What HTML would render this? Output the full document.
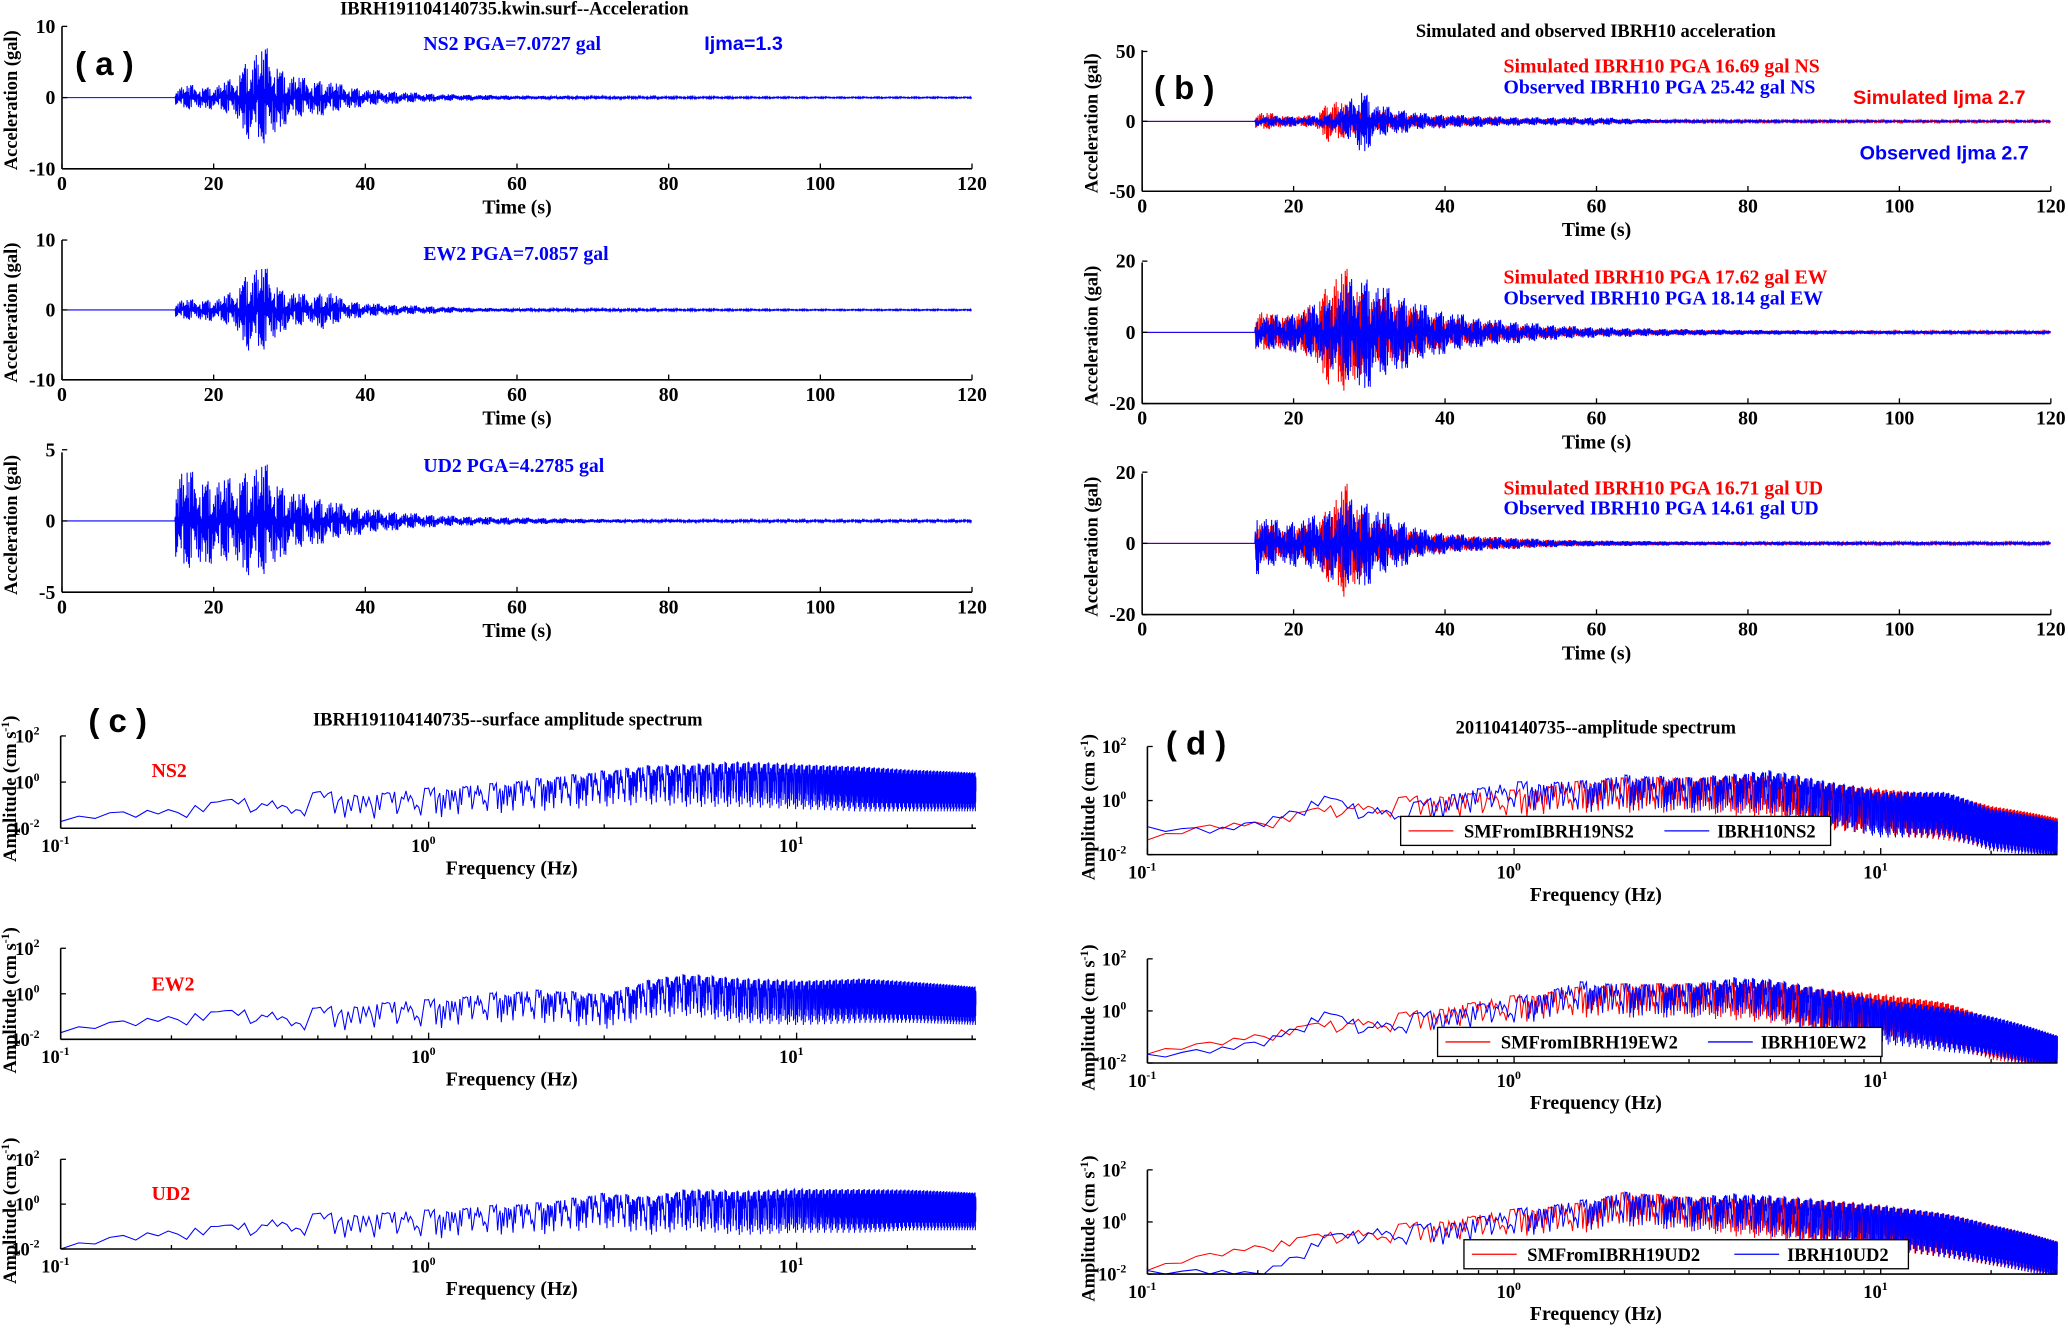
<!DOCTYPE html>
<html><head><meta charset="utf-8"><style>
html,body{margin:0;padding:0;background:#fff;}
svg{display:block;}
text{font-family:"Liberation Serif",serif;font-weight:bold;}
.sans{font-family:"Liberation Sans",sans-serif;}
</style></head>
<body>
<svg id="fig" width="2068" height="1333" viewBox="0 0 1568 1010.7" xmlns="http://www.w3.org/2000/svg">
<rect width="1568" height="1011" fill="#fff"/>
</svg>
<script>
// ---------- Time-series envelope data (time in s, amplitude in gal) ----------
const tKnots = [0,14.9,15,17,19,21,23,25,27,29,31,33,35,37,40,45,50,55,60,70,80,100,120];
const envNS2 = [0,0,1.5,1.8,1.5,2,3,6.5,7,4,3,2.5,2.5,1.8,1.2,0.8,0.5,0.4,0.3,0.2,0.15,0.1,0.1];
const envEW2 = [0,0,1.5,1.5,1.5,1.8,3,6.5,6,3,2.5,2,3,1.5,1,0.7,0.5,0.3,0.25,0.2,0.15,0.1,0.1];
const envUD2 = [0,0,3.8,3.5,3,3,3,4,4,2.5,2,1.8,1.5,1.2,0.9,0.6,0.4,0.3,0.25,0.15,0.1,0.08,0.08];
const simNS = [0,0,7,6,4,4,5,17,12,8,7,6,5,4,4,3,2,2,1.5,1.2,1,0.8,0.8];
const obsNS = [0,0,3,4,4,3,4,6,12,25,12,10,8,6,5,4,3,3,3,1,0.8,0.5,0.5];
const simEW = [0,0,7,5,5,6,9,16,18,12,10,9,8,6,4,3,2,1.5,1,0.8,0.6,0.4,0.4];
const obsEW = [0,0,4,5,5,6,8,10,14,17,14,12,10,8,6,4,3,2,1.5,1,0.7,0.5,0.5];
const simUD = [0,0,7,5,4,5,6,12,17,9,6,5,4,3,2.5,2,1.5,1,0.8,0.6,0.5,0.4,0.4];
const obsUD = [0,0,9,7,6,7,8,10,12,13,10,8,6,4,3,2,1.5,1,0.8,0.6,0.5,0.4,0.4];
const timeTicks = [0,20,40,60,80,100,120];

// ---------- Spectrum data (log10 amplitude upper level) ----------
const fKnots = [0.1,0.15,0.2,0.3,0.4,0.5,0.7,1,1.5,2,3,4,5,7,10,15,20,30];
const cNS2 = [-1.5,-1.3,-1.2,-0.8,-1,-0.6,-0.7,-0.5,-0.3,-0.1,0.2,0.4,0.4,0.5,0.4,0.3,0.2,0.1];
const cEW2 = [-1.5,-1.2,-1,-0.8,-1,-0.8,-0.6,-0.5,-0.2,-0.1,-0.3,0.3,0.5,0.3,0.2,0.3,0.2,0];
const cUD2 = [-1.8,-1.4,-1.2,-1,-0.8,-0.6,-0.6,-0.5,-0.3,-0.2,0.2,0,0.3,0.2,0.3,0.3,0.3,0.2];
const cSpread = [0.2,0.3,0.4,0.5,0.7,0.8,0.9,1,1,1.1,1.2,1.3,1.4,1.5,1.5,1.5,1.4,1.3];
const dNSred = [-1.3,-0.9,-0.8,-0.3,-0.2,0,0.1,0.2,0.5,0.6,0.6,0.6,0.6,0.3,0.1,-0.1,-0.5,-0.9];
const dNSblue = [-1,-1,-0.8,0.1,-0.4,-0.3,0.2,0.5,0.5,0.7,0.6,0.7,0.8,0.4,0,0,-0.6,-1];
const dEWred = [-1.5,-1.2,-0.9,-0.5,-0.4,-0.2,0.1,0.4,0.7,0.8,0.8,0.8,0.8,0.5,0.3,0,-0.6,-1.2];
const dEWblue = [-1.7,-1.4,-1.2,-0.1,-0.6,-0.3,0,0.3,0.9,0.8,0.8,1,0.9,0.5,0.1,-0.2,-0.5,-1.2];
const dUDred = [-1.7,-1.2,-0.9,-0.5,-0.4,-0.2,0,0.3,0.5,0.9,0.7,0.6,0.6,0.5,0.3,0,-0.4,-1];
const dUDblue = [-1.9,-1.8,-2,-0.6,-0.4,-0.3,-0.1,0.3,0.6,0.9,0.7,0.8,0.7,0.5,0.3,0,-0.4,-1];
const dSpread = [0.15,0.2,0.3,0.4,0.5,0.6,0.7,0.8,0.9,1,1,1.1,1.2,1.3,1.3,1.3,1.2,1.1];
const freqTickExp = [-1,0,1];
const ampTickExp = [2,0,-2];

const NS = "http://www.w3.org/2000/svg";
const svg = document.getElementById('fig');
const pat = [1,0.35,0.8,0.15,0.62,0.95,0.3,0.52,0.71,0.2,0.9,0.45,0.66,0.1,0.85,0.4,0.27,0.77,0.58,0.05,0.93,0.33,0.69,0.18,0.48,0.82,0.12,0.6,0.38,0.97,0.25,0.55,0.74,0.08,0.44,0.88,0.29,0.64,0.16,0.79,0.5];

function mk(tag, attrs, name, parent){
  const el = document.createElementNS(NS, tag);
  for (const k in attrs) el.setAttribute(k, attrs[k]);
  
  
  (parent||svg).appendChild(el);
  return el;
}
function txt(x,y,s,attrs,name,parent){
  const el = mk('text', Object.assign({x:x,y:y},attrs||{}), name, parent);
  el.textContent = s;
  return el;
}
function interp(xs, ys, x){
  if (x<=xs[0]) return ys[0];
  for (let i=1;i<xs.length;i++){ if (x<=xs[i]){ const r=(x-xs[i-1])/(xs[i]-xs[i-1]); return ys[i-1]+r*(ys[i]-ys[i-1]); } }
  return ys[ys.length-1];
}

// ---------- time series plot ----------
function timePlot(p){
  const g = mk('g', {}, p.name);
  const xs = t => p.x0 + (t/120)*(p.x1-p.x0);
  const ys = v => p.mid - v/p.ymax*(p.bot-p.mid);
  p.series.forEach((s,si)=>{
    let d = '';
    let i=0;
    for (let t=0;t<=120;t+=0.06,i++){
      const e = interp(tKnots, s.env, t);
      const v = e*pat[(i*3+si*11)%pat.length]*(i%2?1:-1);
      d += (i?'L':'M')+xs(t).toFixed(2)+','+ys(v).toFixed(2);
    }
    mk('path',{d:d,fill:'none',stroke:s.color,'stroke-width':0.8}, s.name, g);
  });
  mk('line',{x1:p.x0,y1:p.top,x2:p.x0,y2:p.bot,stroke:'#000','stroke-width':1.2},'y-axis-line',g);
  mk('line',{x1:p.x0,y1:p.bot,x2:p.x1,y2:p.bot,stroke:'#000','stroke-width':1.2},'x-axis-line',g);
  timeTicks.forEach(t=>{
    mk('line',{x1:xs(t),y1:p.bot,x2:xs(t),y2:p.bot-4,stroke:'#000'},'x-tick',g);
    txt(xs(t),p.bot+16,String(t),{'font-size':15,'text-anchor':'middle'},'x-tick-label',g);
  });
  [p.ymax,0,-p.ymax].forEach(v=>{
    mk('line',{x1:p.x0,y1:ys(v),x2:p.x0+4,y2:ys(v),stroke:'#000'},'y-tick',g);
    txt(p.x0-5,ys(v)+5,String(v),{'font-size':15,'text-anchor':'end'},'y-tick-label',g);
  });
  txt((p.x0+p.x1)/2,p.bot+34,'Time (s)',{'font-size':15,'text-anchor':'middle'},'x-axis-title',g);
  const cy=(p.top+p.bot)/2+2;
  txt(p.lx,cy,'Acceleration (gal)',{'font-size':14,'text-anchor':'middle',transform:`rotate(-90 ${p.lx} ${cy})`},'y-axis-title',g);
}

// ---------- spectrum plot ----------
function specPlot(p){
  const g = mk('g', {}, p.name);
  const xs = f => p.x0 + p.dec*(Math.log10(f)+1);
  const ys = v => p.top + (2-v)/4*(p.bot-p.top);
  const fmax = Math.pow(10,(p.x1-p.x0)/p.dec-1);
  p.series.forEach((s,si)=>{
    let d=''; let i=0;
    for (let f=0.1; f<=fmax; f+=0.012, i++){
      const lf = interp(fKnots, s.level, f);
      const sp = interp(fKnots, p.spread, f);
      const q = pat[(i*7+si*13)%pat.length];
      let v = lf + 0.25*sp - sp*q*q*1.3;
      if (v<-2) v=-2;
      d += (i?'L':'M')+xs(f).toFixed(2)+','+ys(v).toFixed(2);
    }
    mk('path',{d:d,fill:'none',stroke:s.color,'stroke-width':0.8}, s.name, g);
  });
  mk('line',{x1:p.x0,y1:p.top,x2:p.x0,y2:p.bot,stroke:'#000','stroke-width':1.2},'y-axis-line',g);
  mk('line',{x1:p.x0,y1:p.bot,x2:p.x1,y2:p.bot,stroke:'#000','stroke-width':1.2},'x-axis-line',g);
  for (let e=-1;e<=1;e++){ for (let m=2;m<=9;m++){ const f=m*Math.pow(10,e); if (f<=fmax) mk('line',{x1:xs(f),y1:p.bot,x2:xs(f),y2:p.bot-3,stroke:'#000'},'x-minor-tick',g);} }
  freqTickExp.forEach(e=>{
    const x=xs(Math.pow(10,e));
    mk('line',{x1:x,y1:p.bot,x2:x,y2:p.bot-5,stroke:'#000'},'x-tick',g);
    const t=txt(x-4,p.bot+18,'10',{'font-size':14,'text-anchor':'middle'},'x-tick-label',g);
    const ts=mk('tspan',{dy:-6,'font-size':9},'tick-exponent',t); ts.textContent=String(e);
  });
  ampTickExp.forEach(e=>{
    const y=ys(e);
    mk('line',{x1:p.x0,y1:y,x2:p.x0+4,y2:y,stroke:'#000'},'y-tick',g);
    const t=txt(p.x0-16,y+5,'10',{'font-size':14,'text-anchor':'end'},'y-tick-label',g);
    const ts=mk('tspan',{dy:-6,'font-size':9},'tick-exponent',t); ts.textContent=String(e);
  });
  txt((p.x0+p.x1)/2-5,p.bot+35,'Frequency (Hz)',{'font-size':15,'text-anchor':'middle'},'x-axis-title',g);
  const cy=(p.top+p.bot)/2+5;
  const yl=txt(p.lx,cy,'Amplitude (cm s',{'font-size':14,'text-anchor':'middle',transform:`rotate(-90 ${p.lx} ${cy})`},'y-axis-title',g);
  const sup=mk('tspan',{dy:-5,'font-size':9},'unit-exponent',yl); sup.textContent='-1';
  const cl=mk('tspan',{dy:5},'unit-close',yl); cl.textContent=')';
  if (p.legend){
    const L=p.legend;
    mk('rect',{x:L.x,y:L.y,width:L.w,height:22,fill:'#fff',stroke:'#000','stroke-width':1},'legend-box',g);
    mk('line',{x1:L.x+6,y1:L.y+11,x2:L.x+40,y2:L.y+11,stroke:'#f00'},'legend-red-line',g);
    txt(L.x+48,L.y+16,L.a,{'font-size':14},'legend-red-label',g);
    mk('line',{x1:L.x+L.bx,y1:L.y+11,x2:L.x+L.bx+34,y2:L.y+11,stroke:'#00f'},'legend-blue-line',g);
    txt(L.x+L.bx+40,L.y+16,L.b,{'font-size':14},'legend-blue-label',g);
  }
}

// ---- panel (a)
timePlot({name:'a-ns2-plot',x0:47,x1:737,top:20,bot:128,mid:74,ymax:10,lx:13,series:[{env:envNS2,color:'#00f',name:'ns2-waveform'}]});
timePlot({name:'a-ew2-plot',x0:47,x1:737,top:182,bot:288,mid:235,ymax:10,lx:13,series:[{env:envEW2,color:'#00f',name:'ew2-waveform'}]});
timePlot({name:'a-ud2-plot',x0:47,x1:737,top:343,bot:449,mid:395,ymax:5,lx:13,series:[{env:envUD2,color:'#00f',name:'ud2-waveform'}]});
// ---- panel (b)
timePlot({name:'b-ns-plot',x0:866,x1:1555,top:38,bot:145,mid:92,ymax:50,lx:832,series:[{env:simNS,color:'#f00',name:'simulated-ns'},{env:obsNS,color:'#00f',name:'observed-ns'}]});
timePlot({name:'b-ew-plot',x0:866,x1:1555,top:199,bot:306,mid:252,ymax:20,lx:832,series:[{env:simEW,color:'#f00',name:'simulated-ew'},{env:obsEW,color:'#00f',name:'observed-ew'}]});
timePlot({name:'b-ud-plot',x0:866,x1:1555,top:359,bot:466,mid:412,ymax:20,lx:832,series:[{env:simUD,color:'#f00',name:'simulated-ud'},{env:obsUD,color:'#00f',name:'observed-ud'}]});
// ---- panel (c)
specPlot({name:'c-ns2-spectrum',x0:46,x1:740,dec:279,top:558,bot:628,lx:12,spread:cSpread,series:[{level:cNS2,color:'#00f',name:'ns2-spectrum'}]});
specPlot({name:'c-ew2-spectrum',x0:46,x1:740,dec:279,top:719,bot:788,lx:12,spread:cSpread,series:[{level:cEW2,color:'#00f',name:'ew2-spectrum'}]});
specPlot({name:'c-ud2-spectrum',x0:46,x1:740,dec:279,top:879,bot:947,lx:12,spread:cSpread,series:[{level:cUD2,color:'#00f',name:'ud2-spectrum'}]});
// ---- panel (d)
specPlot({name:'d-ns2-spectrum',x0:870,x1:1560,dec:278,top:566,bot:648,lx:830,spread:dSpread,series:[{level:dNSred,color:'#f00',name:'sim-ns2-spectrum'},{level:dNSblue,color:'#00f',name:'obs-ns2-spectrum'}],legend:{x:1062,y:619,w:326,bx:200,a:'SMFromIBRH19NS2',b:'IBRH10NS2'}});
specPlot({name:'d-ew2-spectrum',x0:870,x1:1560,dec:278,top:727,bot:806,lx:830,spread:dSpread,series:[{level:dEWred,color:'#f00',name:'sim-ew2-spectrum'},{level:dEWblue,color:'#00f',name:'obs-ew2-spectrum'}],legend:{x:1090,y:779,w:337,bx:205,a:'SMFromIBRH19EW2',b:'IBRH10EW2'}});
specPlot({name:'d-ud2-spectrum',x0:870,x1:1560,dec:278,top:887,bot:966,lx:830,spread:dSpread,series:[{level:dUDred,color:'#f00',name:'sim-ud2-spectrum'},{level:dUDblue,color:'#00f',name:'obs-ud2-spectrum'}],legend:{x:1110,y:940,w:337,bx:205,a:'SMFromIBRH19UD2',b:'IBRH10UD2'}});

// ---- titles & annotations
txt(390,11,'IBRH191104140735.kwin.surf--Acceleration',{'font-size':14,'text-anchor':'middle'},'panel-a-title');
txt(1210,28,'Simulated and observed IBRH10 acceleration',{'font-size':14,'text-anchor':'middle'},'panel-b-title');
txt(385,550,'IBRH191104140735--surface amplitude spectrum',{'font-size':14,'text-anchor':'middle'},'panel-c-title');
txt(1210,556,'201104140735--amplitude spectrum',{'font-size':14,'text-anchor':'middle'},'panel-d-title');
txt(57,57,'( a )',{'font-size':25,class:'sans'},'panel-a-label');
txt(875,75,'( b )',{'font-size':25,class:'sans'},'panel-b-label');
txt(67,555,'( c )',{'font-size':25,class:'sans'},'panel-c-label');
txt(884,572,'( d )',{'font-size':25,class:'sans'},'panel-d-label');
txt(321,38,'NS2 PGA=7.0727 gal',{'font-size':15,fill:'#00f'},'ns2-pga-label');
txt(534,38,'Ijma=1.3',{'font-size':15,fill:'#00f',class:'sans'},'ijma-label');
txt(321,197,'EW2 PGA=7.0857 gal',{'font-size':15,fill:'#00f'},'ew2-pga-label');
txt(321,358,'UD2 PGA=4.2785 gal',{'font-size':15,fill:'#00f'},'ud2-pga-label');
txt(1140,55,'Simulated IBRH10  PGA  16.69 gal NS',{'font-size':15,fill:'#f00','xml:space':'preserve'},'sim-ns-pga');
txt(1140,71,'Observed IBRH10  PGA  25.42 gal NS',{'font-size':15,fill:'#00f','xml:space':'preserve'},'obs-ns-pga');
txt(1405,79,'Simulated Ijma 2.7',{'font-size':15,fill:'#f00',class:'sans'},'sim-ijma');
txt(1410,121,'Observed Ijma 2.7',{'font-size':15,fill:'#00f',class:'sans'},'obs-ijma');
txt(1140,215,'Simulated IBRH10  PGA 17.62 gal EW',{'font-size':15,fill:'#f00','xml:space':'preserve'},'sim-ew-pga');
txt(1140,231,'Observed IBRH10    PGA 18.14 gal  EW',{'font-size':15,fill:'#00f','xml:space':'preserve'},'obs-ew-pga');
txt(1140,375,'Simulated IBRH10  PGA 16.71 gal UD',{'font-size':15,fill:'#f00','xml:space':'preserve'},'sim-ud-pga');
txt(1140,390,'Observed  IBRH10    PGA 14.61 gal UD',{'font-size':15,fill:'#00f','xml:space':'preserve'},'obs-ud-pga');
txt(115,589,'NS2',{'font-size':15,fill:'#f00'},'c-ns2-label');
txt(115,751,'EW2',{'font-size':15,fill:'#f00'},'c-ew2-label');
txt(115,910,'UD2',{'font-size':15,fill:'#f00'},'c-ud2-label');
</script>
</body></html>
